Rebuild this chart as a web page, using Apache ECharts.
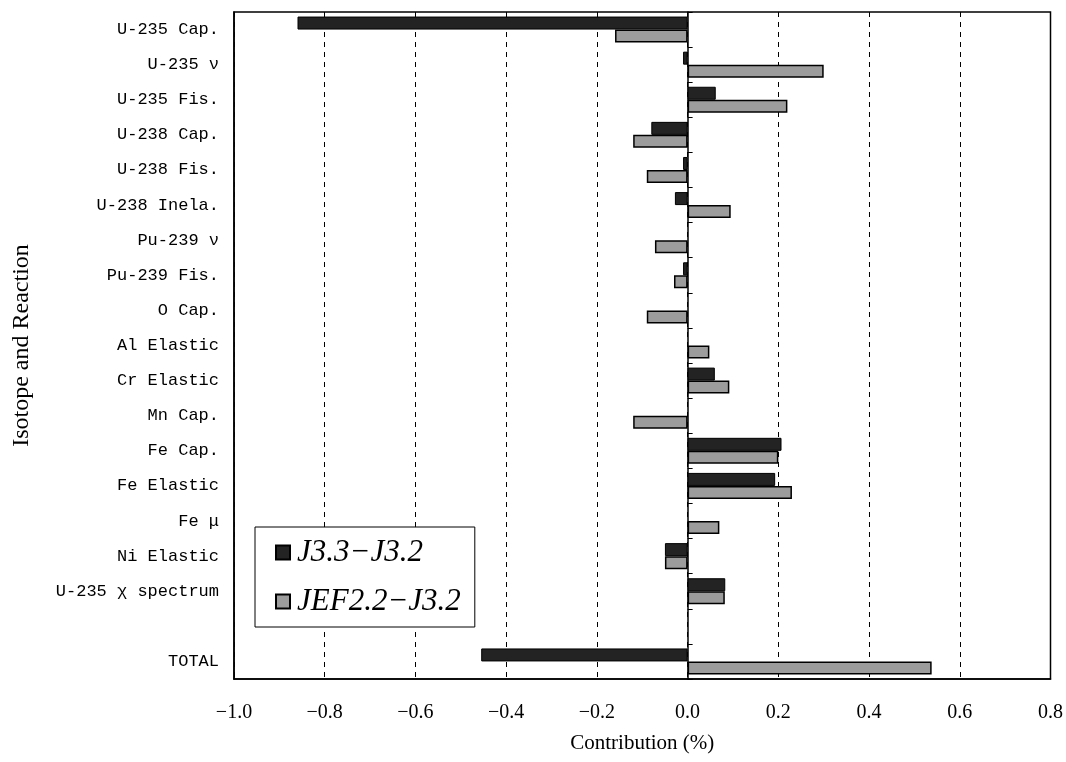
<!DOCTYPE html>
<html><head><meta charset="utf-8">
<script src="https://cdn.jsdelivr.net/npm/echarts@6/dist/echarts.min.js"></script>
<style>html,body{margin:0;padding:0;background:#fff}#c{width:1066px;height:762px}</style>
</head><body><div id="c"></div>
<script>
const categories = ['U-235 Cap.','U-235 \u03bd','U-235 Fis.','U-238 Cap.','U-238 Fis.','U-238 Inela.','Pu-239 \u03bd','Pu-239 Fis.','O Cap.','Al Elastic','Cr Elastic','Mn Cap.','Fe Cap.','Fe Elastic','Fe \u03bc','Ni Elastic','U-235 \u03c7 spectrum','','TOTAL'];
const j33 = [-0.86,-0.01,0.062,-0.08,-0.01,-0.028,'-',-0.01,'-','-',0.06,'-',0.207,0.193,'-',-0.05,0.083,'-',-0.455];
const jef22 = [-0.16,0.30,0.22,-0.12,-0.09,0.095,-0.072,-0.03,-0.09,0.048,0.092,-0.12,0.20,0.23,0.07,-0.05,0.082,'-',0.538];
const seriesNames = ['J3.3\u2212J3.2','JEF2.2\u2212J3.2'];
const xTicks = {min:-1.0, max:0.8, interval:0.2};

const serif = '"Liberation Serif","DejaVu Serif",serif';
const chart = echarts.init(document.getElementById('c'));
chart.setOption({
  animation:false,
  backgroundColor:'#fff',
  grid:{left:234,right:13,top:12,bottom:83,show:true,borderColor:'#000',borderWidth:1.5,backgroundColor:'transparent'},
  legend:{
    data:seriesNames, orient:'vertical', left:255, top:527, icon:'rect', itemWidth:14, itemHeight:14, itemGap:18,
    padding:[10,14,10,20], borderColor:'#000', borderWidth:1, backgroundColor:'#fff',
    textStyle:{fontFamily:serif, fontStyle:'italic', fontSize:31, color:'#000', padding:[0,0,0,2]}
  },
  xAxis:{
    type:'value', min:xTicks.min, max:xTicks.max, interval:xTicks.interval,
    name:'Contribution (%)', nameLocation:'middle', nameGap:54,
    nameTextStyle:{fontFamily:serif, fontSize:21, color:'#000'},
    axisLine:{show:true, onZero:false, lineStyle:{color:'#000',width:1.5}},
    axisTick:{show:false},
    axisLabel:{fontFamily:serif, fontSize:20, color:'#000', margin:24,
      formatter:v=>(v<0?'\u2212':'')+Math.abs(v).toFixed(1)},
    splitLine:{show:true, lineStyle:{color:'#000', type:[5,5], width:1}}
  },
  yAxis:[{
    type:'category', data:categories, inverse:true,
    name:'Isotope and Reaction', nameLocation:'middle', nameGap:200, nameRotate:90,
    nameTextStyle:{fontFamily:serif, fontSize:24, color:'#000'},
    axisLine:{show:true, onZero:false, lineStyle:{color:'#000',width:1.5}},
    axisTick:{show:false},
    axisLabel:{fontFamily:'"Liberation Mono","DejaVu Sans Mono",monospace', fontSize:17, color:'#000', margin:15},
    splitLine:{show:false}
  },{
    type:'category', data:categories, inverse:true, position:'left',
    axisLine:{show:true, onZero:true, lineStyle:{color:'#000',width:1.5}},
    axisTick:{show:true, inside:true, length:5, lineStyle:{color:'#000'}},
    axisLabel:{show:false}, splitLine:{show:false}
  }],
  series:[{
    name:seriesNames[0], type:'bar', yAxisIndex:0, data:j33, barWidth:13, barGap:'0%',
    itemStyle:{color:'#232323', borderColor:'#000', borderWidth:1}
  },{
    name:seriesNames[1], type:'bar', yAxisIndex:0, data:jef22, barWidth:13, barGap:'0%',
    itemStyle:{color:'#9c9c9c', borderColor:'#000', borderWidth:1.5}
  }]
});
</script></body></html>
